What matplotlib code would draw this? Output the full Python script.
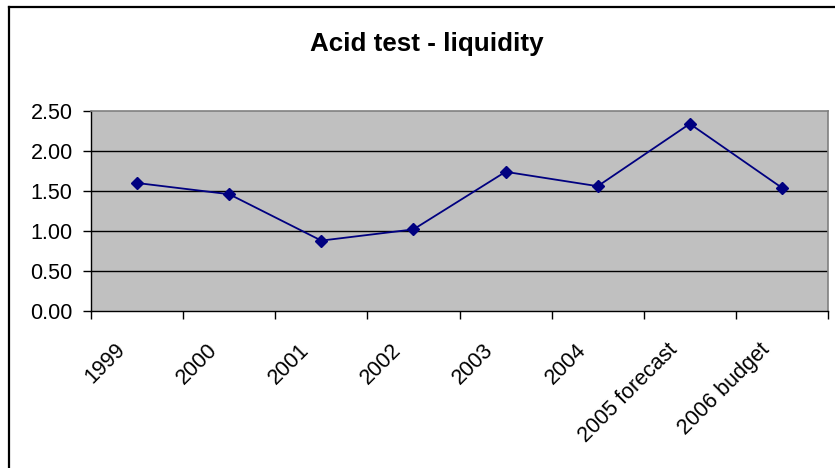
"""
  Acid test liquidity chart, Excel style.
"""

import matplotlib
matplotlib.use('Agg')
from matplotlib import pyplot as plt
from matplotlib import transforms
from matplotlib.lines import Line2D
import numpy as np

CATEGORIES = ['1999', '2000', '2001', '2002', '2003', '2004',
              '2005 forecast', '2006 budget']
RATIOS = [1.60, 1.46, 0.88, 1.02, 1.74, 1.56, 2.34, 1.54]
Y_TICKS = [0.0, 0.5, 1.0, 1.5, 2.0, 2.5]

plt.rcParams['font.family'] = ['Liberation Sans', 'DejaVu Sans']

W, H = 835, 468
fig = plt.figure(figsize=(W / 100, H / 100), dpi=100)
axis = fig.add_axes([91 / W, 1 - 311 / H, (828 - 91) / W, (311 - 111) / H])

axis.set_facecolor('#c0c0c0')
xs = np.arange(len(CATEGORIES))
axis.plot(xs, RATIOS, color='#000080', lw=1.3, marker='D', ms=6.2,
          mfc='#000080', mec='#000080', mew=1, zorder=3)

axis.set_xlim(-0.5, len(CATEGORIES) - 0.5)
axis.set_ylim(0, 2.5)

# gridlines
for y in Y_TICKS[1:-1]:
    axis.axhline(y, color='black', lw=1, zorder=2)

axis.set_yticks(Y_TICKS)
axis.set_yticklabels([f"{v:.2f}" for v in Y_TICKS])
axis.tick_params(axis='y', length=6, width=1, pad=7.2, labelsize=15.5,
                 colors='black')

# boundary ticks, labels on the category centres
axis.set_xticks(np.arange(-0.5, len(CATEGORIES)), minor=False)
axis.set_xticklabels([])
axis.set_xticks(xs, minor=True)
axis.set_xticklabels(CATEGORIES, minor=True)
axis.tick_params(axis='x', which='major', length=6, width=1)
axis.tick_params(axis='x', which='minor', length=0, pad=20.5, labelsize=15.5)
shift = transforms.ScaledTranslation(-22.5 / 100, 0, fig.dpi_scale_trans)
for lab in axis.get_xticklabels(minor=True):
    lab.set_rotation(45)
    lab.set_ha('right')
    lab.set_va('top')
    lab.set_rotation_mode('anchor')
    lab.set_transform(lab.get_transform() + shift)

for side in ['left', 'bottom']:
    axis.spines[side].set_color('black')
    axis.spines[side].set_linewidth(1)
for side in ['top', 'right']:
    axis.spines[side].set_color('#808080')
    axis.spines[side].set_linewidth(1.2)

fig.text(427 / W, 1 - 51 / H, 'Acid test - liquidity', ha='center',
         va='baseline', fontsize=18.7, weight='bold')

# chart area border (cropped at right and bottom)
fig.add_artist(Line2D([9 / W, 9 / W], [0, 1 - 7 / H], color='black', lw=1.6))
fig.add_artist(Line2D([9 / W, 1], [1 - 7 / H, 1 - 7 / H], color='black',
                      lw=1.6))

fig.savefig('out.png', dpi=100)
